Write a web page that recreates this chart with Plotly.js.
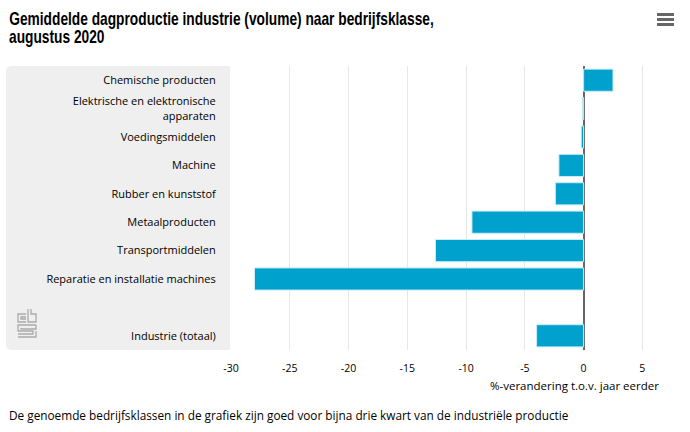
<!DOCTYPE html>
<html>
<head>
<meta charset="utf-8">
<script src="https://cdn.plot.ly/plotly-3.0.1.min.js"></script>
<style>html,body{margin:0;padding:0;background:#fff;}#chart{width:690px;height:432px;}</style>
</head>
<body>
<div id="chart"></div>
<script>
// Data
const categories = [
  "Chemische producten",
  "Elektrische en elektronische<br>apparaten",
  "Voedingsmiddelen",
  "Machine",
  "Rubber en kunststof",
  "Metaalproducten",
  "Transportmiddelen",
  "Reparatie en installatie machines",
  " ",
  "Industrie (totaal)"
];
const values = [2.5, -0.1, -0.2, -2.1, -2.4, -9.5, -12.6, -28.0, null, -4.0];
const xTickValues = [-30, -25, -20, -15, -10, -5, 0, 5];
const titleLines = ["Gemiddelde dagproductie industrie (volume) naar bedrijfsklasse,", "augustus 2020"];
const xTitleText = "%-verandering t.o.v. jaar eerder";
const footnoteText = "De genoemde bedrijfsklassen in de grafiek zijn goed voor bijna drie kwart van de industriële productie";

// Layout geometry (pixels)
const W = 690, H = 432;
const L = 231, R = 30, T = 66, B = 82;
const pw = W - L - R, ph = H - T - B;
const px = p => (p - L) / pw;
const py = q => (H - B - q) / ph;
function path(pts) {
  return pts.map((pt, i) => (i ? 'L' : 'M') + px(pt[0]).toFixed(5) + ',' + py(pt[1]).toFixed(5)).join(' ');
}
function roundRect(x0, y0, x1, y1, r) {
  const X = px, Y = py;
  return `M${X(x0 + r)},${Y(y0)} L${X(x1)},${Y(y0)} L${X(x1)},${Y(y1)} L${X(x0 + r)},${Y(y1)} Q${X(x0)},${Y(y1)} ${X(x0)},${Y(y1 - r)} L${X(x0)},${Y(y0 + r)} Q${X(x0)},${Y(y0)} ${X(x0 + r)},${Y(y0)} Z`;
}
const logoLine = {color: '#aaa', width: 1.3};
const shapes = [
  {type: 'path', xref: 'paper', yref: 'paper', path: roundRect(6, 66, 230, 350, 6),
   fillcolor: '#efefef', line: {width: 0}, layer: 'below'},
  // hamburger menu
  {type: 'rect', xref: 'paper', yref: 'paper', x0: px(657), x1: px(674), y0: py(13), y1: py(16), fillcolor: '#666', line: {width: 0}},
  {type: 'rect', xref: 'paper', yref: 'paper', x0: px(657), x1: px(674), y0: py(18), y1: py(21), fillcolor: '#666', line: {width: 0}},
  {type: 'rect', xref: 'paper', yref: 'paper', x0: px(657), x1: px(674), y0: py(23), y1: py(26), fillcolor: '#666', line: {width: 0}},
  // cbs logo (approximate)
  {type: 'path', xref: 'paper', yref: 'paper', path: path([[26,314],[18,314],[18,322],[26,322]]), line: logoLine},
  {type: 'path', xref: 'paper', yref: 'paper', path: path([[26,317],[21,317],[21,319],[26,319]]), line: logoLine},
  {type: 'path', xref: 'paper', yref: 'paper', path: path([[28,309],[28,322],[36,322],[36,314],[31,314],[31,309]]), line: logoLine},
  {type: 'path', xref: 'paper', yref: 'paper', path: path([[36,325],[18,325],[18,331],[33,331],[33,334],[18,334]]), line: logoLine},
  {type: 'path', xref: 'paper', yref: 'paper', path: path([[36,325],[36,329],[21,329],[21,328]]), line: logoLine},
  {type: 'path', xref: 'paper', yref: 'paper', path: path([[36,331],[36,337],[18,337]]), line: logoLine}
];

const data = [{
  type: 'bar',
  orientation: 'h',
  y: categories,
  x: values,
  marker: {color: '#00a1cd', line: {color: '#c9ecf5', width: 1}},
  hoverinfo: 'x+y'
}];

const titleFont = {family: 'Liberation Sans, Arial, sans-serif', size: 18, color: '#000'};
const layout = {
  width: W, height: H,
  margin: {l: L, r: R, t: T, b: B, pad: 0},
  paper_bgcolor: '#fff',
  plot_bgcolor: 'rgba(0,0,0,0)',
  showlegend: false,
  bargap: 0.22,
  font: {family: 'Open Sans, sans-serif', size: 11, color: '#000'},
  xaxis: {
    range: [-30, 6.5],
    tickvals: xTickValues,
    ticktext: xTickValues.map(String),
    showgrid: true, gridcolor: '#e6e6e6', gridwidth: 1,
    zeroline: true, zerolinecolor: '#666', zerolinewidth: 2,
    showline: false, ticks: 'outside', ticklen: 8, tickcolor: 'rgba(0,0,0,0)',
    tickfont: {size: 10.5, color: '#000'},
    title: {text: ''},
    fixedrange: true
  },
  yaxis: {
    type: 'category',
    categoryorder: 'array',
    categoryarray: categories,
    autorange: 'reversed',
    showgrid: false, zeroline: false, showline: false,
    ticks: 'outside', ticklen: 12, tickcolor: 'rgba(0,0,0,0)',
    tickfont: {size: 11, color: '#000'},
    fixedrange: true
  },
  shapes: shapes,
  annotations: [
    {xref: 'paper', yref: 'paper', x: px(7), y: py(7), xanchor: 'left', yanchor: 'top',
     text: '<b>' + titleLines[0] + '</b>', showarrow: false, font: titleFont, name: 'title1'},
    {xref: 'paper', yref: 'paper', x: px(7), y: py(25.5), xanchor: 'left', yanchor: 'top',
     text: '<b>' + titleLines[1] + '</b>', showarrow: false, font: titleFont, name: 'title2'},
    {xref: 'paper', yref: 'paper', x: px(661), y: py(376), xanchor: 'right', yanchor: 'top',
     text: xTitleText, showarrow: false, font: {size: 11.5, color: '#000'}},
    {xref: 'paper', yref: 'paper', x: px(7), y: py(405), xanchor: 'left', yanchor: 'top',
     text: footnoteText, showarrow: false, font: {size: 11.8, color: '#000'}}
  ]
};

Plotly.newPlot('chart', data, layout, {displayModeBar: false}).then(gd => {
  // condense the title text horizontally (the reference uses a narrow typeface)
  const texts = gd.querySelectorAll('.annotation-text');
  const targetFirst = 425;
  let scale = null;
  [0, 1].forEach(i => {
    const t = texts[i];
    if (!t) return;
    const bb = t.getBBox();
    if (scale === null) scale = targetFirst / bb.width;
    const left = bb.x;
    t.setAttribute('transform', `translate(${left},0) scale(${scale},1) translate(${-left},0)`);
  });
});
</script>
</body>
</html>
